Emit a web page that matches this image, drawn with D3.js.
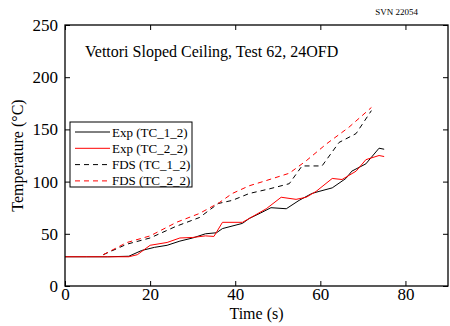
<!DOCTYPE html>
<html>
<head>
<meta charset="utf-8">
<script src="https://cdn.jsdelivr.net/npm/d3@7"></script>
<style>
  body { margin: 0; background: #fff; }
  text { font-family: "Liberation Serif", "Times New Roman", serif; }
</style>
</head>
<body>
<svg id="chart" width="450" height="326"></svg>
<script>
// Data (time s, temperature °C)
const expTC1 = [[0,28],[5,28],[10,28],[15,28.5],[18,34],[21,37],[24,39],[27,43],[30,46],[33,50],[35.6,51],
  [37,55],[41.7,60],[43.3,64.7],[46,70],[48.4,75],[52,74],[55,82],[58,88.6],[59.7,90.6],[62.8,94],
  [66,103],[67.4,110],[70.7,117],[73.8,132],[75,131]];
const expTC2 = [[0,28],[5,28],[10,28],[15,28],[17,30],[20,39],[24,41.7],[27,46],[30,46.5],[33,48],[35,47.5],
  [37,61],[41.7,61],[43.3,64.7],[47.3,74],[50.8,85],[54.3,83],[56.7,85],[59,90.6],[62.8,103],[65.1,102],
  [68.4,110],[70.7,121],[73.8,125],[75,124]];
const fdsTC1 = [[9,30],[14.5,40],[20,46],[26,57],[31.6,65.6],[36,79],[39.3,82],[43.3,88.6],[48,93],[52.7,98],
  [55.7,115],[60.4,115],[64.4,137.5],[68.4,146],[72,168]];
const fdsTC2 = [[9,30],[14.5,41.6],[20,48],[26.2,61],[31.6,69.5],[36.3,80],[39.3,88.6],[43.3,96],[47.3,101],
  [52.7,108],[56.7,120],[61.4,136],[66.7,152],[72,171]];

const xTicks = [0, 20, 40, 60, 80];
const yTicks = [0, 50, 100, 150, 200, 250];

const series = [
  { name: "Exp (TC_1_2)", data: expTC1, color: "#000", dash: null },
  { name: "Exp (TC_2_2)", data: expTC2, color: "#ff0000", dash: null },
  { name: "FDS (TC_1_2)", data: fdsTC1, color: "#000", dash: "5,4" },
  { name: "FDS (TC_2_2)", data: fdsTC2, color: "#ff0000", dash: "5,4" }
];

const svg = d3.select("#chart");
const margin = { top: 25, right: 2, bottom: 40, left: 65 };
const width = 450 - margin.left - margin.right;
const height = 326 - margin.top - margin.bottom;

const g = svg.append("g").attr("transform", `translate(${margin.left},${margin.top})`);

const x = d3.scaleLinear().domain([0, 90]).range([0, width]);
const y = d3.scaleLinear().domain([0, 250]).range([height, 0]);

// axes with inward ticks, mirrored on top/right
const tickLen = 5;
g.append("g").attr("transform", `translate(0,${height})`)
  .call(d3.axisBottom(x).tickValues(xTicks).tickSize(-tickLen).tickPadding(2))
  .call(a => a.select(".domain").remove());
g.append("g")
  .call(d3.axisTop(x).tickValues(xTicks).tickSize(-tickLen).tickFormat(""))
  .call(a => a.select(".domain").remove());
g.append("g")
  .call(d3.axisLeft(y).tickValues(yTicks).tickSize(-tickLen).tickPadding(7))
  .call(a => a.select(".domain").remove());
g.append("g").attr("transform", `translate(${width},0)`)
  .call(d3.axisRight(y).tickValues(yTicks).tickSize(-tickLen).tickFormat(""))
  .call(a => a.select(".domain").remove());

g.selectAll(".tick text").attr("font-size", 17).attr("fill", "#000")
  .style("font-family", '"Liberation Serif", serif');
g.selectAll(".tick line").attr("stroke", "#000");

const line = d3.line().x(d => x(d[0])).y(d => y(d[1]));

series.forEach(s => {
  g.append("path")
    .datum(s.data)
    .attr("d", line)
    .attr("fill", "none")
    .attr("stroke", s.color)
    .attr("stroke-width", 1)
    .attr("stroke-dasharray", s.dash);
});

g.append("rect")
  .attr("width", width).attr("height", height)
  .attr("fill", "none").attr("stroke", "#000").attr("stroke-width", 1.3);

// title inside plot
g.append("text")
  .attr("x", 20).attr("y", 32)
  .attr("font-size", 16)
  .text("Vettori Sloped Ceiling, Test 62, 24OFD");

// legend
const leg = g.append("g").attr("transform", "translate(5,97)");
leg.append("rect").attr("width", 122).attr("height", 65)
  .attr("fill", "#fff").attr("stroke", "#000").attr("stroke-width", 1);
series.forEach((s, i) => {
  const yy = 10 + i * 16.3;
  leg.append("line").attr("x1", 5).attr("x2", 40).attr("y1", yy).attr("y2", yy)
    .attr("stroke", s.color).attr("stroke-width", 1).attr("stroke-dasharray", s.dash);
  leg.append("text").attr("x", 42).attr("y", yy + 4.5)
    .attr("font-size", 13).text(s.name);
});

// axis labels
svg.append("text")
  .attr("x", margin.left + x(45)).attr("y", 319)
  .attr("text-anchor", "middle").attr("font-size", 16)
  .text("Time (s)");
svg.append("text")
  .attr("transform", `translate(23,${margin.top + y(125)}) rotate(-90)`)
  .attr("text-anchor", "middle").attr("font-size", 16)
  .text("Temperature (\u00B0C)");

svg.append("text")
  .attr("x", 418).attr("y", 15)
  .attr("text-anchor", "end").attr("font-size", 9)
  .text("SVN 22054");
</script>
</body>
</html>
